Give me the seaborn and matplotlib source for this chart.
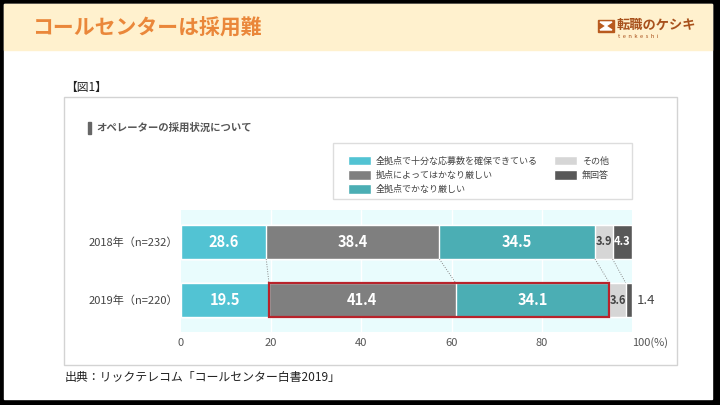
import numpy as np
import pandas as pd
import seaborn as sns
import matplotlib.pyplot as plt
from matplotlib.patches import Rectangle, Polygon
from matplotlib.transforms import ScaledTranslation

# データ
years = ["2018年（n=232）", "2019年（n=220）"]
categories = ["全拠点で十分な応募数を確保できている", "拠点によってはかなり厳しい",
              "全拠点でかなり厳しい", "その他", "無回答"]
share_2018 = [18.9, 38.4, 34.5, 3.9, 4.3]   # bar widths as drawn
share_2019 = [19.5, 41.4, 34.1, 3.6, 1.4]
labels_2018 = ["28.6", "38.4", "34.5", "3.9", "4.3"]   # printed values
labels_2019 = ["19.5", "41.4", "34.1", "3.6", "1.4"]
xticks = [0, 20, 40, 60, 80, 100]
xtick_labels = ["0", "20", "40", "60", "80", "100(%)"]

colors = ["#52C3D3", "#7F7F7F", "#4BAEB4", "#D6D6D6", "#585858"]
text_colors = ["white", "white", "white", "#444444", "white"]

sns.set_theme(style="white")
plt.rcParams["font.family"] = ["Noto Sans CJK JP", "DejaVu Sans"]

W, H = 720, 405
fx = lambda x: x / W
fy = lambda y: 1 - y / H

fig = plt.figure(figsize=(7.2, 4.05), dpi=100)
fig.patch.set_facecolor("black")

# 白い台紙とヘッダー帯
fig.patches.append(Rectangle((fx(4), fy(399)), (712 - 4) / W, (399 - 4) / H,
                             transform=fig.transFigure, color="white", zorder=0))
fig.patches.append(Rectangle((fx(4), fy(50)), (712 - 4) / W, (50 - 4) / H,
                             transform=fig.transFigure, color="#FFF1CE", zorder=1))
fig.text(fx(32), fy(28), "コールセンターは採用難", fontsize=15, weight="bold",
         color="#EA873A", va="center", ha="left")

# ロゴ
fig.patches.append(Rectangle((fx(598), fy(32)), 16 / W, 12 / H,
                             transform=fig.transFigure, color="#B85A1E", zorder=2))
fig.patches.append(Polygon([(fx(600), fy(22)), (fx(606), fy(26)), (fx(600), fy(30)),
                            (fx(612), fy(30)), (fx(606), fy(26)), (fx(612), fy(22))],
                           closed=True, transform=fig.transFigure, color="white", zorder=3))
fig.text(fx(617), fy(25), "転職のケシキ", fontsize=9.5, weight="bold",
         color="#A8511C", va="center", ha="left")
fig.text(fx(618), fy(36), "t  e  n  k  e  s  h  i", fontsize=4.2,
         color="#A8511C", va="center", ha="left")

# 図の枠
fig.text(fx(65), fy(87), "【図1】", fontsize=8.5, color="#222222", va="center")
fig.patches.append(Rectangle((fx(64), fy(365)), (677 - 64) / W, (365 - 97) / H,
                             transform=fig.transFigure, fill=False,
                             edgecolor="#D3D3D3", lw=1, zorder=2))
fig.patches.append(Rectangle((fx(88), fy(134)), 3 / W, 12 / H,
                             transform=fig.transFigure, color="#666666", zorder=3))
fig.text(fx(96), fy(128), "オペレーターの採用状況について", fontsize=7.5,
         weight="bold", color="#555555", va="center")
fig.text(fx(65), fy(377), "出典：リックテレコム「コールセンター白書2019」",
         fontsize=8.6, color="#222222", va="center")

# 凡例の枠
fig.patches.append(Rectangle((fx(333), fy(199)), (632 - 333) / W, (199 - 143) / H,
                             transform=fig.transFigure, facecolor="white",
                             edgecolor="#DDDDDD", lw=1, zorder=2))

# 積み上げ棒
ax = fig.add_axes([fx(181), fy(332), (632 - 181) / W, (332 - 210) / H])
ax.set_zorder(5)
ax.set_facecolor("#E9FCFD")

cum18 = np.cumsum(share_2018)
cum19 = np.cumsum(share_2019)
bar_h = 0.59
for k in reversed(range(len(categories))):
    df = pd.DataFrame({"year": years, "value": [cum18[k], cum19[k]]})
    sns.barplot(data=df, x="value", y="year", orient="h", color=colors[k],
                saturation=1, width=bar_h, order=years, ax=ax, zorder=3,
                label=categories[k])
handles, labs = ax.get_legend_handles_labels()
if ax.get_legend() is not None:
    ax.get_legend().remove()

# 数値ラベル
for row, (vals, labs_, cums) in enumerate([(share_2018, labels_2018, cum18),
                                           (share_2019, labels_2019, cum19)]):
    for k, (v, lab, c) in enumerate(zip(vals, labs_, cums)):
        if v < 2:
            ax.text(c + 1.0, row, lab, ha="left", va="center", fontsize=9.5,
                    color="#444444", zorder=5)
        elif v < 5:
            ax.text(c - v / 2, row, lab, ha="center", va="center", fontsize=8,
                    color=text_colors[k], weight="bold", zorder=5)
        else:
            ax.text(c - v / 2, row, lab, ha="center", va="center", fontsize=10.5,
                    color=text_colors[k], weight="bold", zorder=5)

# 点線の連結線
for k in range(len(categories) - 1):
    ax.plot([cum18[k], cum19[k]], [bar_h / 2, 1 - bar_h / 2], ls=(0, (1, 1.5)),
            color="#888888", lw=0.7, zorder=4)

# 赤枠
ax.add_patch(Rectangle((cum19[0], 1 - bar_h / 2), share_2019[1] + share_2019[2], bar_h,
                       fill=False, edgecolor="#B8232B", lw=1.6, zorder=6))

ax.set_xlim(0, 100)
ax.set_ylim(1 + 0.55, -0.55)
ax.set_xticks(xticks)
ax.set_xticklabels(xtick_labels, fontsize=8, color="#555555")
last = ax.get_xticklabels()[-1]
last.set_horizontalalignment("left")
last.set_transform(last.get_transform() + ScaledTranslation(-12 / 100, 0, fig.dpi_scale_trans))
ax.set_yticks([0, 1])
ax.set_yticklabels(years, fontsize=8, color="#444444")
ax.tick_params(axis="both", length=0)
ax.tick_params(axis="x", pad=4)
ax.tick_params(axis="y", pad=2)
ax.set_xlabel("")
ax.set_ylabel("")
for x in xticks[1:-1]:
    ax.axvline(x, color="white", lw=1, zorder=1)
for s in ax.spines.values():
    s.set_visible(False)

# 凡例
order = [labs.index(c) for c in categories]
leg = fig.legend([handles[i] for i in order], categories, ncol=2,
                 loc="upper left", bbox_to_anchor=(fx(343), fy(151)),
                 frameon=False, fontsize=6.5, handlelength=2.6, handleheight=1.3,
                 labelspacing=0.5, columnspacing=1.8, handletextpad=0.5,
                 borderpad=0, labelcolor="#444444")
leg.set_zorder(10)

fig.savefig("out.png", dpi=100, facecolor=fig.get_facecolor())
